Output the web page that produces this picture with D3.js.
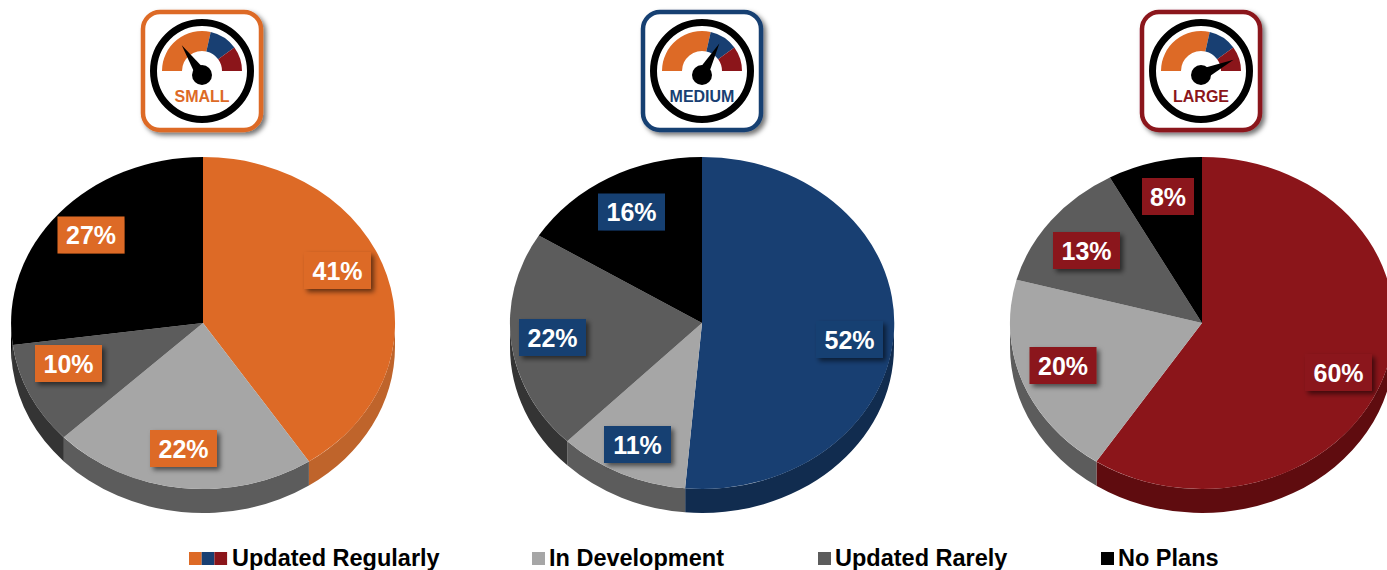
<!DOCTYPE html>
<html>
<head>
<meta charset="utf-8">
<script src="https://cdn.jsdelivr.net/npm/d3@7"></script>
<style>
    html, body { margin: 0; padding: 0; background: #fff; }
    svg { display: block; }
    text { font-family: "Liberation Sans", Arial, sans-serif; font-weight: bold; }
</style>
</head>
<body>
<div id="chart"></div>
<script>
// Data, slice sizes estimated from the slice edges
const sizes = ["SMALL", "MEDIUM", "LARGE"];
const categories = ["Updated Regularly", "In Development", "Updated Rarely", "No Plans"];
const smallValues = [40.7, 22.2, 10, 27.1];
const mediumValues = [51.5, 11, 21.5, 16.2];
const largeValues = [59.5, 20, 12.9, 8];
const gaugeBands = [57, 23, 20];
const needleReadings = [31, 66, 86];

const orange = "#dd6a26", navy = "#183f72", red = "#8b151a";
const accents = [orange, navy, red];
const accentWalls = ["#bf642b", "#112c4f", "#5f0c0f"];
const sliceGreys = ["#a6a6a6", "#5c5c5c", "#000000"];
const wallGreys = ["#5c5c5c", "#343434", "#000000"];

// Layout
const width = 1387, height = 570;
const rx = 192, ry = 166, depth = 24;
const centers = [[203, 323], [702, 323], [1202, 323]];
const gaugeCenters = [[202, 71], [702, 71], [1201, 71]];
const labelCenters = [
    [[337.5, 270.5], [183.5, 448.5], [68.5, 363.5], [91, 235]],
    [[849.5, 339.5], [637.5, 444.5], [552.5, 337.5], [631.5, 212]],
    [[1338.5, 372.5], [1063, 365.5], [1086.5, 250.5], [1168, 196.5]]
];

const svg = d3.select("#chart").append("svg")
    .attr("width", width)
    .attr("height", height);

const defs = svg.append("defs");

// Soft shadow used by the value boxes and the gauge tiles
const shadow = defs.append("filter")
    .attr("id", "shadow")
    .attr("x", "-30%").attr("y", "-30%")
    .attr("width", "170%").attr("height", "170%");
shadow.append("feDropShadow")
    .attr("dx", 3).attr("dy", 3)
    .attr("stdDeviation", 2.5)
    .attr("flood-color", "#000")
    .attr("flood-opacity", 0.55);

const pie = d3.pie().sort(null).value(d => d);
const arc = d3.arc().innerRadius(0).outerRadius(1);

// Point on the rim of the squashed pie, angle measured clockwise from the top
function rim(a, dy) {
    return [rx * Math.sin(a), -ry * Math.cos(a) + dy];
}

// Side wall of a slice, only the front half of the pie shows it
function wallPath(d) {
    const a0 = Math.max(d.startAngle, Math.PI / 2);
    const a1 = Math.min(d.endAngle, Math.PI * 3 / 2);
    if (a1 <= a0) return null;
    const p0 = rim(a0, 0), p1 = rim(a1, 0), p2 = rim(a1, depth), p3 = rim(a0, depth);
    return `M${p0}A${rx},${ry} 0 0 1 ${p1}L${p2}A${rx},${ry} 0 0 0 ${p3}Z`;
}

function drawPie(values, i) {
    const slices = pie(values);
    const g = svg.append("g")
        .attr("transform", `translate(${centers[i]})`);

    g.selectAll("path.wall")
        .data(slices)
        .enter().append("path")
        .attr("class", "wall")
        .attr("d", wallPath)
        .attr("fill", (d, k) => k === 0 ? accentWalls[i] : wallGreys[k - 1]);

    g.append("g")
        .attr("transform", `scale(${rx},${ry})`)
        .selectAll("path")
        .data(slices)
        .enter().append("path")
        .attr("d", arc)
        .attr("fill", (d, k) => k === 0 ? accents[i] : sliceGreys[k - 1]);

    // Value boxes
    const boxes = svg.append("g")
        .selectAll("g")
        .data(values)
        .enter().append("g")
        .attr("transform", (d, k) => `translate(${labelCenters[i][k]})`);

    boxes.append("rect")
        .attr("x", d => d < 10 ? -26 : -33.5)
        .attr("y", -18.5)
        .attr("width", d => d < 10 ? 52 : 67)
        .attr("height", 37)
        .attr("fill", accents[i])
        .attr("filter", "url(#shadow)");

    boxes.append("text")
        .attr("text-anchor", "middle")
        .attr("y", 9)
        .attr("font-size", 25)
        .attr("fill", "#fff")
        .text(d => Math.round(d) + "%");
}

function drawGauge(name, i) {
    const [cx, cy] = gaugeCenters[i];
    const g = svg.append("g").attr("transform", `translate(${cx},${cy})`);

    g.append("rect")
        .attr("x", -59).attr("y", -59)
        .attr("width", 118).attr("height", 118)
        .attr("rx", 17)
        .attr("fill", "#fff")
        .attr("stroke", accents[i])
        .attr("stroke-width", 4.5)
        .attr("filter", "url(#shadow)");

    g.append("circle")
        .attr("r", 48.5)
        .attr("fill", "#fff")
        .attr("stroke", "#000")
        .attr("stroke-width", 7);

    const bandPie = d3.pie().sort(null).value(d => d)
        .startAngle(-Math.PI / 2).endAngle(Math.PI / 2);
    const bandArc = d3.arc().innerRadius(20).outerRadius(40);

    g.append("g")
        .selectAll("path")
        .data(bandPie(gaugeBands))
        .enter().append("path")
        .attr("d", bandArc)
        .attr("fill", (d, k) => accents[k]);

    // Needle pivots on the black hub, reading runs 0-100 over the half circle
    const needleAngle = d3.scaleLinear().domain([0, 100]).range([-90, 90]);
    g.append("path")
        .attr("transform", `translate(0,4) rotate(${needleAngle(needleReadings[i])})`)
        .attr("d", "M-6,0L0,-36L6,0Z")
        .attr("fill", "#000");
    g.append("circle")
        .attr("cy", 4)
        .attr("r", 10)
        .attr("fill", "#000");

    g.append("text")
        .attr("text-anchor", "middle")
        .attr("y", 31)
        .attr("font-size", 16)
        .attr("fill", accents[i])
        .text(name);
}

[smallValues, mediumValues, largeValues].forEach(drawPie);
sizes.forEach(drawGauge);

// Legend
const legendX = [232, 549, 835, 1118];
const legendY = 566;
const swatch = 13;

const legend = svg.append("g")
    .selectAll("g")
    .data(categories)
    .enter().append("g")
    .attr("transform", (d, k) => `translate(${legendX[k]},${legendY})`);

legend.append("text")
    .attr("font-size", 23.5)
    .attr("fill", "#000")
    .text(d => d);

legend.filter((d, k) => k > 0).append("rect")
    .attr("x", -17)
    .attr("y", -14)
    .attr("width", swatch)
    .attr("height", swatch)
    .attr("fill", (d, k) => sliceGreys[k]);

legend.filter((d, k) => k === 0).selectAll("rect")
    .data(accents)
    .enter().append("rect")
    .attr("x", (d, k) => -43 + k * 12.7)
    .attr("y", -14)
    .attr("width", 12.7)
    .attr("height", swatch)
    .attr("fill", d => d);
</script>
</body>
</html>
